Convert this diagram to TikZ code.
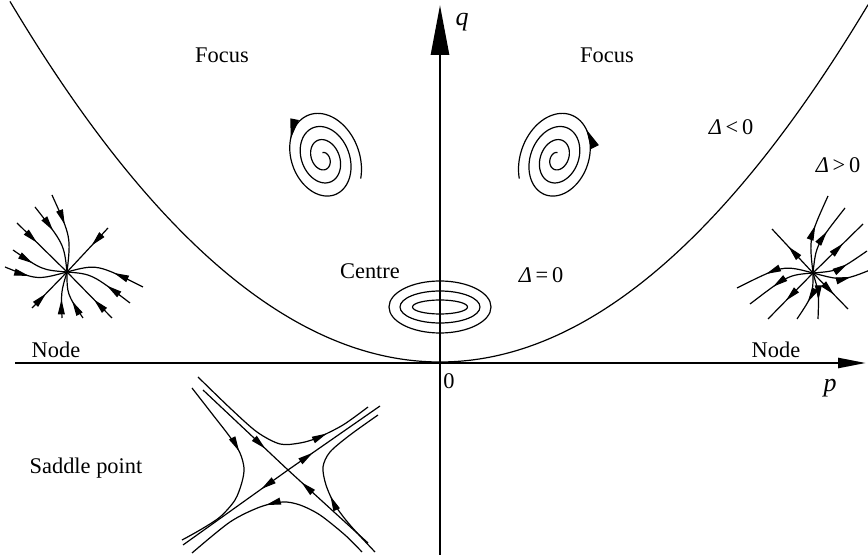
\documentclass[tikz,border=0pt]{standalone}
\usepackage{fontspec}
\setmainfont{Liberation Serif}
\usetikzlibrary{arrows.meta,decorations.markings}

\tikzset{
  smalltip/.tip={Triangle[length=7.5pt,width=3.4pt]},
  bigtip/.tip={Triangle[length=10pt,width=4.2pt]},
  fwdtip/.style={postaction={decorate,decoration={markings,mark=at position #1 with {\arrow{smalltip}}}}},
  backtip/.style={postaction={decorate,decoration={markings,mark=at position #1 with {\arrowreversed{smalltip}}}}},
  bigfwd/.style={postaction={decorate,decoration={markings,mark=at position #1 with {\arrow{bigtip}}}}},
  bigback/.style={postaction={decorate,decoration={markings,mark=at position #1 with {\arrowreversed{bigtip}}}}},
  lbl/.style={font=\fontsize{11.2}{13}\selectfont},
  axislbl/.style={font=\fontsize{13}{15}\selectfont\itshape},
}

% twelve trajectories of a node, drawn towards its centre (0,0)
\newcommand{\noderays}[1]{%
  \draw[#1] (-15,-77) .. controls (4,-35) .. (0,0);
  \draw[#1] (-32,-65) .. controls (-3,-28) .. (0,0);
  \draw[#1] (-50,-49) -- (0,0);
  \draw[#1] (-54,-22) .. controls (-25,-2) .. (0,0);
  \draw[#1] (-62,-5) .. controls (-30,8) .. (0,0);
  \draw[#1] (41,-44) -- (0,0);
  \draw[#1] (76,15) .. controls (30,-8) .. (0,0);
  \draw[#1] (63,31) .. controls (25,2) .. (0,0);
  \draw[#1] (45,46) -- (0,0);
  \draw[#1] (16,46) .. controls (0,22) .. (0,0);
  \draw[#1] (-5,46) .. controls (-6,20) .. (0,0);
  \draw[#1] (-35,36) -- (0,0);
}

\begin{document}
\begin{tikzpicture}[x=0.5pt,y=-0.5pt,line width=0.6pt]
  \useasboundingbox (0,0) rectangle (868,555);
  % axes
  \draw[line width=1.2pt,-{Triangle[length=14pt,width=5pt]}] (15,363) -- (866,363) coordinate (pend);
  \draw[line width=1.4pt,-{Triangle[length=25pt,width=9pt]}] (440,555) -- (440,5) coordinate (qend);
  \node[axislbl] (plbl) at (830,388) {p};
  \node[axislbl] (qlbl) at (462,22) {q};
  \node[lbl] (origin) at (449,381) {0};
  % parabola Delta = 0
  \draw plot[domain=-430:428,samples=120,smooth] ({440+\x},{362-0.195*(\x/10)^2});
  % region labels
  \node[lbl] (focusl) at (222,55) {Focus};
  \node[lbl] (focusr) at (607,55) {Focus};
  \node[lbl] (dneg) at (731,127) {\textit{Δ}\thinspace<\thinspace0};
  \node[lbl] (dpos) at (838,165) {\textit{Δ}\thinspace>\thinspace0};
  \node[lbl] (dzero) at (541,275) {\textit{Δ}\thinspace=\thinspace0};
  \node[lbl] (centre) at (370,271) {Centre};
  \node[lbl] (nodel) at (56,350) {Node};
  \node[lbl] (noder) at (776,350) {Node};
  \node[lbl] (saddle) at (86,468) {Saddle point};
  % foci
  \draw[bigfwd=0.25] plot[domain=-40:1150,samples=400,variable=\t]
    ({323+(36-\t/36)*(0.9397*cos(\t)-0.4617*sin(\t))},{158+(36-\t/36)*(-0.342*cos(\t)-1.2686*sin(\t))});
  \draw[bigback=0.23] plot[domain=-40:1150,samples=400,variable=\t]
    ({557-(36-\t/36)*(0.9397*cos(\t)-0.4617*sin(\t))},{158+(36-\t/36)*(-0.342*cos(\t)-1.2686*sin(\t))});
  % centre
  \draw (440,307) ellipse [x radius=51,y radius=26];
  \draw (440,307) ellipse [x radius=40,y radius=16];
  \draw (440,307) ellipse [x radius=27.5,y radius=7];
  % nodes
  \begin{scope}[shift={(67,272)}]
    \noderays{fwdtip=0.4}
  \end{scope}
  \begin{scope}[shift={(813,273)},xscale=-1]
    \noderays{backtip=0.4}
  \end{scope}
  % saddle point
  \coordinate (sad) at (288,470);
  \draw[fwdtip=0.38,backtip=0.6] (203,390) -- (sad) -- (368,543);
  \draw[backtip=0.40,fwdtip=0.66] (183,545) -- (sad) -- (380,406);
  \draw[fwdtip=0.76] plot[smooth] coordinates {(198,377) (230,408) (257,432) (280,444) (300,443) (317,438) (343,425) (368,407)};
  \draw[fwdtip=0.4] plot[smooth] coordinates {(192,388) (213,415) (230,437) (240,453) (244,468) (242,482) (235,500) (220,517) (200,530) (182,540)};
  \draw[backtip=0.44] plot[smooth] coordinates {(192,553) (230,522) (260,507) (283,502) (300,505) (320,515) (345,535) (362,552)};
  \draw[backtip=0.6] plot[smooth] coordinates {(378,415) (350,435) (330,452) (323,467) (326,485) (335,505) (350,525) (375,552)};
\end{tikzpicture}
\end{document}
